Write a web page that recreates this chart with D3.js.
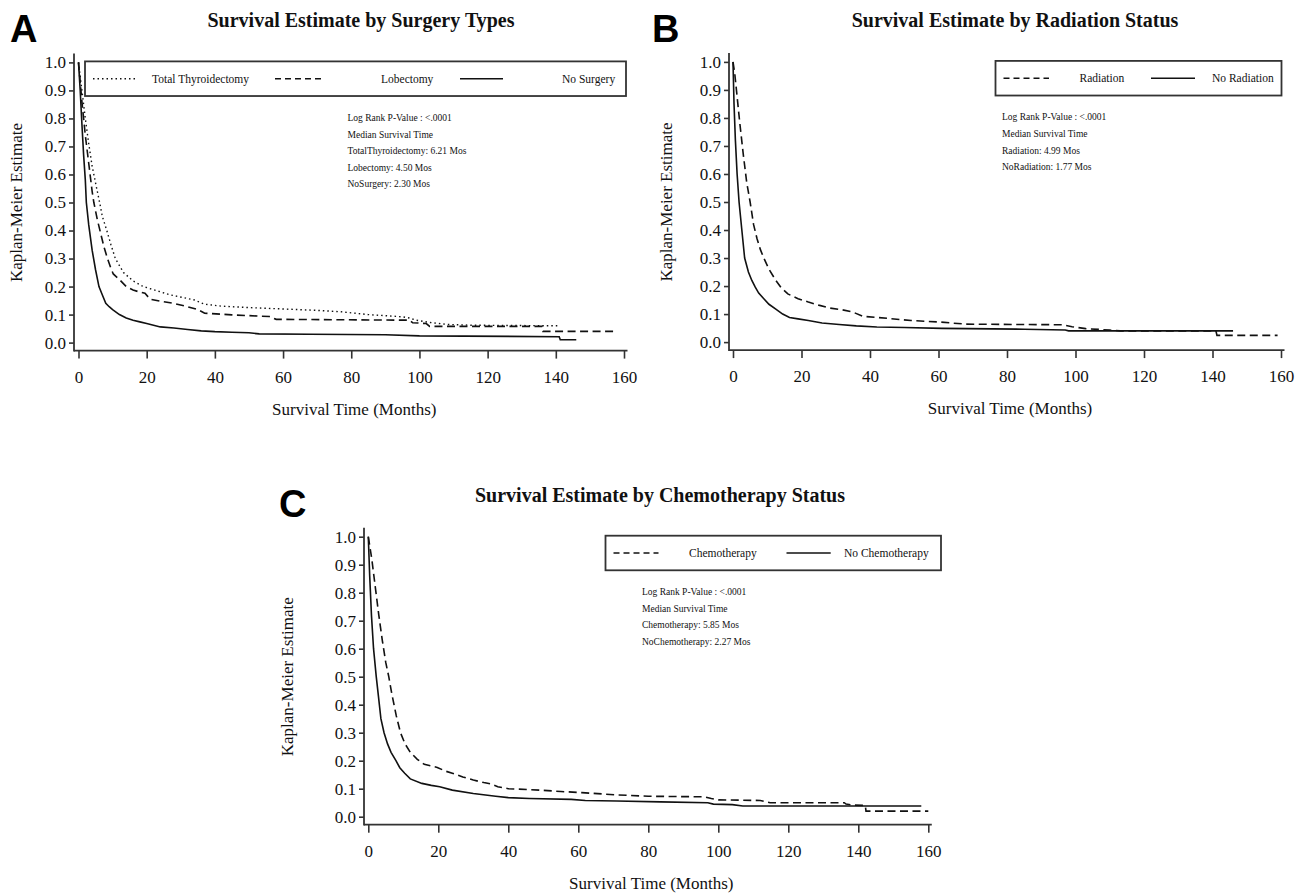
<!DOCTYPE html>
<html><head><meta charset="utf-8">
<script src="https://cdn.jsdelivr.net/npm/d3@7"></script>
<style>body{margin:0;background:#fff}svg{display:block}</style>
</head><body>
<svg id="chart" width="1297" height="896"></svg>
<script>
// ---------- tick labels ----------
const xTicks = [0, 20, 40, 60, 80, 100, 120, 140, 160];
const yTicks = [0, 0.1, 0.2, 0.3, 0.4, 0.5, 0.6, 0.7, 0.8, 0.9, 1.0];

// ---------- Panel A : surgery ----------
const monthsA_TT = [0,0.5,1,2,3,4,5,6.2,7,8.3,9.5,10.8,13.2,16,19,23,27,31,34,37,42,50,60,70,77,85,95,97,99,103,108,115,141];
const survA_TT   = [1,0.95,0.9,0.8,0.71,0.63,0.57,0.5,0.45,0.4,0.35,0.3,0.25,0.22,0.2,0.185,0.17,0.16,0.152,0.137,0.13,0.125,0.12,0.115,0.11,0.1,0.092,0.088,0.08,0.072,0.065,0.062,0.06];
const monthsA_Lob = [0,0.5,1,1.5,2,3,4,4.5,5.5,6.5,7.5,8.5,9.5,10.2,12,14,16,18,19.5,21,24,28,32,35,37,45,56,58,97,98,102,103,136,136.2,158];
const survA_Lob   = [1,0.93,0.86,0.8,0.74,0.64,0.54,0.5,0.44,0.39,0.34,0.3,0.265,0.245,0.225,0.2,0.188,0.18,0.176,0.155,0.148,0.14,0.128,0.118,0.105,0.099,0.093,0.083,0.08,0.071,0.068,0.058,0.058,0.04,0.04];
const monthsA_NoS = [0,0.5,1,1.5,2,2.3,3,4,5,6,7,8,9,10,12,14,16,18,20,22,24,28,32,36,40,45,50,53,68,90,100,141,141.3,146];
const survA_NoS   = [1,0.9,0.78,0.67,0.58,0.5,0.42,0.33,0.26,0.2,0.17,0.14,0.128,0.118,0.1,0.088,0.08,0.074,0.068,0.062,0.056,0.052,0.047,0.042,0.039,0.037,0.035,0.031,0.03,0.028,0.024,0.021,0.01,0.01];
const legendA = ["Total Thyroidectomy", "Lobectomy", "No Surgery"];
const notesA = ["Log Rank P-Value : <.0001", "Median Survival Time", "TotalThyroidectomy: 6.21 Mos", "Lobectomy: 4.50 Mos", "NoSurgery: 2.30 Mos"];

// ---------- Panel B : radiation ----------
const monthsB_Rad = [0,0.5,1,2,3,4,5,6,7,8,9,10.5,12.5,14,16,19,22,25,28,32,35,38,45,52,60,68,96,99,103,110,113,141,141.3,159];
const survB_Rad   = [1,0.96,0.9,0.78,0.67,0.57,0.5,0.42,0.37,0.33,0.3,0.26,0.22,0.195,0.172,0.155,0.143,0.132,0.122,0.115,0.107,0.092,0.085,0.077,0.072,0.064,0.062,0.055,0.048,0.043,0.04,0.04,0.024,0.024];
const monthsB_NoRad = [0,0.3,0.7,1.2,1.77,2.5,3.4,4.5,5.5,6.5,7.5,9,10.5,12.5,14.5,16.5,19,22,26,31,36,42,50,61,85,97,98,146];
const survB_NoRad   = [1,0.85,0.72,0.6,0.5,0.41,0.3,0.25,0.22,0.196,0.175,0.155,0.135,0.118,0.1,0.088,0.083,0.077,0.068,0.063,0.058,0.054,0.052,0.049,0.046,0.043,0.04,0.04];
const legendB = ["Radiation", "No Radiation"];
const notesB = ["Log Rank P-Value : <.0001", "Median Survival Time", "Radiation: 4.99 Mos", "NoRadiation: 1.77 Mos"];

// ---------- Panel C : chemotherapy ----------
const monthsC_Chemo = [0,0.5,1,2,3,4,5,5.85,6.7,8,9.2,10.5,12,14,16,19.7,22,24,27,30,33,35,37,40,49,55,61,71,80,96,98,100,112,114.8,136,136.5,138,142,142.2,160];
const survC_Chemo   = [1,0.96,0.92,0.82,0.72,0.63,0.55,0.5,0.44,0.36,0.3,0.26,0.23,0.205,0.187,0.176,0.163,0.155,0.142,0.131,0.122,0.117,0.107,0.1,0.095,0.09,0.086,0.078,0.073,0.071,0.065,0.06,0.058,0.05,0.05,0.045,0.042,0.04,0.02,0.02];
const monthsC_NoChemo = [0,0.4,0.9,1.5,2.27,2.9,3.6,4.5,5.5,6.5,7.9,9,10.4,12,15.3,18,20.4,24,30,36.4,40,46,58,62,71,83.5,97,98.6,104,107,158];
const survC_NoChemo   = [1,0.86,0.72,0.6,0.5,0.43,0.35,0.3,0.26,0.23,0.2,0.175,0.155,0.135,0.119,0.112,0.107,0.095,0.083,0.073,0.068,0.065,0.062,0.058,0.056,0.053,0.05,0.045,0.043,0.038,0.038];
const legendC = ["Chemotherapy", "No Chemotherapy"];
const notesC = ["Log Rank P-Value : <.0001", "Median Survival Time", "Chemotherapy: 5.85 Mos", "NoChemotherapy: 2.27 Mos"];

const titles = ["Survival Estimate by Surgery Types", "Survival Estimate by Radiation Status", "Survival Estimate by Chemotherapy Status"];
const letters = ["A", "B", "C"];
const xTitle = "Survival Time (Months)";
const yTitle = "Kaplan-Meier Estimate";

// ---------- styles ----------
const SERIF = "'Liberation Serif','Times New Roman',serif";
const styles = {
  dotted: "1.5,3",
  dashed: "8,4.5",
  solid: null
};

const svg = d3.select("#chart");
svg.append("rect").attr("width", 1297).attr("height", 896).attr("fill", "#fff");

function drawPanel(cfg) {
  const g = svg.append("g");
  const x = d3.scaleLinear().domain([0, 160]).range([cfg.x0, cfg.x160]);
  const y = d3.scaleLinear().domain([0, 1]).range([cfg.y0, cfg.y1]);
  const axisY = cfg.y0 + 8;

  // panel letter
  g.append("text").attr("x", cfg.letterX).attr("y", cfg.y1 - 20)
    .attr("font-family", "'Liberation Sans',Arial,sans-serif").attr("font-weight", "bold")
    .attr("font-size", 38).attr("fill", "#000").text(cfg.letter);
  // title
  g.append("text").attr("x", cfg.titleX).attr("y", cfg.y1 - 35)
    .attr("text-anchor", "middle").attr("font-family", SERIF).attr("font-weight", "bold")
    .attr("font-size", 20).attr("fill", "#111").text(cfg.title);

  // x axis
  const xa = g.append("g").attr("transform", `translate(0,${axisY})`)
    .call(d3.axisBottom(x).tickValues(xTicks).tickSize(8).tickSizeOuter(0).tickFormat(d3.format("d")));
  xa.select(".domain").remove();
  xa.selectAll("line").attr("stroke", "#333").attr("stroke-width", 1.6);
  xa.selectAll("text").attr("y", 20).attr("font-family", SERIF).attr("font-size", 17).attr("fill", "#111");
  // y axis
  const ya = g.append("g").attr("transform", `translate(${cfg.ax},0)`)
    .call(d3.axisLeft(y).tickValues(yTicks).tickSize(5).tickSizeOuter(0).tickFormat(d3.format(".1f")));
  ya.select(".domain").remove();
  ya.selectAll("line").attr("stroke", "#333").attr("stroke-width", 1.6);
  ya.selectAll("text").attr("font-family", SERIF).attr("font-size", 17).attr("fill", "#111");
  // axis lines
  g.append("line").attr("x1", cfg.ax).attr("x2", cfg.ax).attr("y1", y(1) - 9).attr("y2", axisY + 0.8)
    .attr("stroke", "#333").attr("stroke-width", 1.8);
  g.append("line").attr("x1", cfg.ax).attr("x2", x(160) + 3.5).attr("y1", axisY).attr("y2", axisY)
    .attr("stroke", "#333").attr("stroke-width", 1.8);

  // axis titles
  g.append("text").attr("x", (cfg.x0 + cfg.x160) / 2 + 3).attr("y", axisY + 64)
    .attr("text-anchor", "middle").attr("font-family", SERIF).attr("font-size", 17).attr("fill", "#111").text(xTitle);
  g.append("text").attr("transform", `translate(${cfg.yTitleX},${(cfg.y0 + cfg.y1) / 2}) rotate(-90)`)
    .attr("text-anchor", "middle").attr("font-family", SERIF).attr("font-size", 17).attr("fill", "#111").text(yTitle);

  // curves
  const line = d3.line().x(d => x(d[0])).y(d => y(d[1]));
  cfg.series.forEach(s => {
    g.append("path").datum(d3.zip(s.months, s.surv)).attr("d", line)
      .attr("fill", "none").attr("stroke", "#111")
      .attr("stroke-width", s.style === "dotted" ? 1.4 : 1.6)
      .attr("stroke-dasharray", styles[s.style]);
  });

  // legend
  const lb = cfg.legend;
  const ly1 = y(1) - 1, ly2 = y(0.88);
  g.append("rect").attr("x", lb.x1).attr("y", ly1).attr("width", lb.x2 - lb.x1).attr("height", ly2 - ly1)
    .attr("fill", "#fff").attr("stroke", "#333").attr("stroke-width", 1.8);
  const lyc = (ly1 + ly2) / 2;
  cfg.series.forEach((s, i) => {
    const it = lb.items[i];
    g.append("line").attr("x1", it.l1).attr("x2", it.l2).attr("y1", lyc).attr("y2", lyc)
      .attr("stroke", "#111").attr("stroke-width", s.style === "dotted" ? 1.4 : 1.6)
      .attr("stroke-dasharray", s.style === "dashed" ? "6,4" : styles[s.style]);
    g.append("text").attr("x", it.t).attr("y", lyc + 4).attr("font-family", SERIF)
      .attr("font-size", 11.5).attr("fill", "#111").text(s.label);
  });

  // notes
  const ny0 = y(1) + 58.5;
  cfg.notes.forEach((t, i) => {
    g.append("text").attr("x", cfg.notesX).attr("y", ny0 + i * 16.6)
      .attr("font-family", SERIF).attr("font-size", 9.5).attr("fill", "#111").text(t);
  });
}

drawPanel({
  letter: letters[0], title: titles[0], letterX: 10, titleX: 361,
  ax: 74, x0: 78.5, x160: 624, y0: 342.6, y1: 62.4, yTitleX: 22, notesX: 347.5,
  series: [
    {label: legendA[0], months: monthsA_TT, surv: survA_TT, style: "dotted"},
    {label: legendA[1], months: monthsA_Lob, surv: survA_Lob, style: "dashed"},
    {label: legendA[2], months: monthsA_NoS, surv: survA_NoS, style: "solid"}
  ],
  legend: {x1: 85, x2: 626, items: [{l1: 93, l2: 137, t: 152}, {l1: 275, l2: 322, t: 381}, {l1: 460, l2: 503, t: 562}]},
  notes: notesA
});

drawPanel({
  letter: letters[1], title: titles[1], letterX: 652, titleX: 1015,
  ax: 729, x0: 733, x160: 1281, y0: 342.1, y1: 61.9, yTitleX: 672, notesX: 1002,
  series: [
    {label: legendB[0], months: monthsB_Rad, surv: survB_Rad, style: "dashed"},
    {label: legendB[1], months: monthsB_NoRad, surv: survB_NoRad, style: "solid"}
  ],
  legend: {x1: 995.5, x2: 1281.5, items: [{l1: 1003.5, l2: 1049, t: 1079.5}, {l1: 1151, l2: 1195, t: 1212}]},
  notes: notesB
});

drawPanel({
  letter: letters[2], title: titles[2], letterX: 279, titleX: 660,
  ax: 364, x0: 368.3, x160: 928.3, y0: 816.7, y1: 536.7, yTitleX: 293, notesX: 642,
  series: [
    {label: legendC[0], months: monthsC_Chemo, surv: survC_Chemo, style: "dashed"},
    {label: legendC[1], months: monthsC_NoChemo, surv: survC_NoChemo, style: "solid"}
  ],
  legend: {x1: 605.5, x2: 941, items: [{l1: 613.5, l2: 658.5, t: 689}, {l1: 786.5, l2: 830.7, t: 844}]},
  notes: notesC
});
</script>
</body></html>
